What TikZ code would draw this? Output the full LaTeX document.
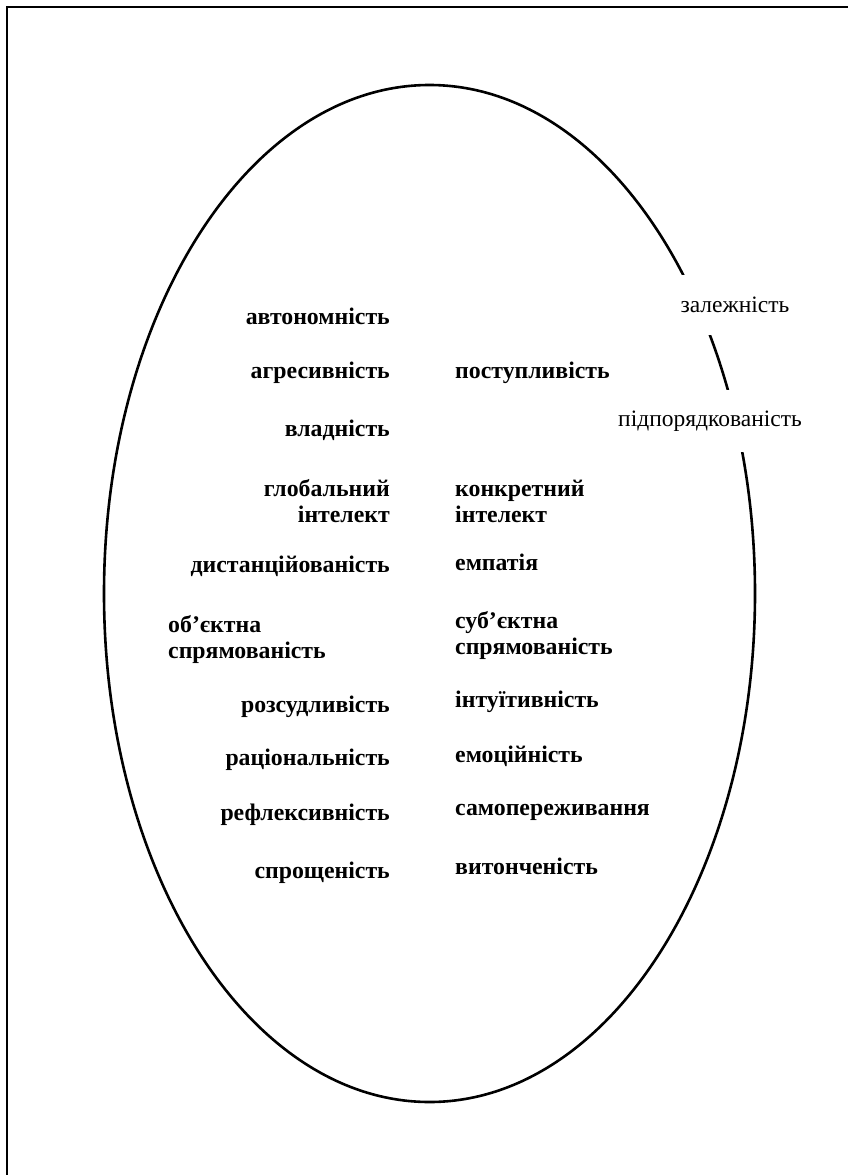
\documentclass[tikz,border=0pt]{standalone}
\usepackage{fontspec}
\setmainfont{Liberation Serif}[BoldFont={Liberation Serif Bold}]
\begin{document}
\begin{tikzpicture}[x=1pt,y=-1pt,
  lab/.style={font=\fontsize{23.8}{26}\selectfont\bfseries, inner sep=0pt, text height=0.68em, text depth=0.22em},
  labm/.style={font=\fontsize{23.8}{26}\selectfont\bfseries, inner sep=0pt},
  side/.style={font=\fontsize{23.5}{26}\selectfont, fill=white, inner xsep=4pt, inner ysep=0pt}
]
\useasboundingbox (0,0) rectangle (847,1175);
% frame (left and top edges visible)
\coordinate (fbl) at (7,1176);
\coordinate (ftl) at (7,7);
\coordinate (ftr) at (848,7);
\draw[line width=2pt] (fbl) -- (ftl) -- (ftr);
% ellipse
\coordinate (c) at (429.5,593.5);
\draw[line width=2.6pt] (c) ellipse [x radius=325.5, y radius=508.5];
% side labels interrupting the ellipse
\node[side, minimum height=60pt] (zal) at (735,305) {залежність};
\node[side, minimum height=62pt] (pid) at (710,421) {підпорядкованість};
% left column
\node[lab, anchor=east] (l1) at (390,322) {автономність};
\node[lab, anchor=east] (l2) at (390,376) {агресивність};
\node[lab, anchor=east] (l3) at (390,434) {владність};
\node[labm, anchor=east, align=right] (l4) at (390,501) {глобальний\\інтелект};
\node[lab, anchor=east] (l5) at (390,570) {дистанційованість};
\node[labm, anchor=west, align=left] (l6) at (168,640) {об’єктна\\спрямованість};
\node[lab, anchor=east] (l7) at (390,710) {розсудливість};
\node[lab, anchor=east] (l8) at (390,763) {раціональність};
\node[lab, anchor=east] (l9) at (390,818) {рефлексивність};
\node[lab, anchor=east] (l10) at (390,876) {спрощеність};
% right column
\node[lab, anchor=west] (r2) at (455,376) {поступливість};
\node[labm, anchor=west, align=left] (r4) at (455,501) {конкретний\\інтелект};
\node[lab, anchor=west] (r5) at (455,568) {емпатія};
\node[labm, anchor=west, align=left] (r6) at (455,636) {суб’єктна\\спрямованість};
\node[lab, anchor=west] (r7) at (455,705) {інтуїтивність};
\node[lab, anchor=west] (r8) at (455,760) {емоційність};
\node[lab, anchor=west] (r9) at (455,813) {самопереживання};
\node[lab, anchor=west] (r10) at (455,872) {витонченість};
\end{tikzpicture}
\end{document}
